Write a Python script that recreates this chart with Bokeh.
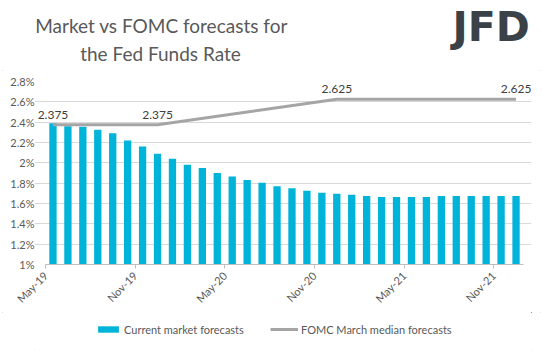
from bokeh.plotting import figure
from bokeh.layouts import column
from bokeh.models import (ColumnDataSource, FixedTicker, PrintfTickFormatter, Label,
                          Legend, LegendItem)
from bokeh.embed import file_html
from bokeh.resources import INLINE
import math

# ---- data ----
months = ["May-19", "Jun-19", "Jul-19", "Aug-19", "Sep-19", "Oct-19", "Nov-19", "Dec-19",
          "Jan-20", "Feb-20", "Mar-20", "Apr-20", "May-20", "Jun-20", "Jul-20", "Aug-20",
          "Sep-20", "Oct-20", "Nov-20", "Dec-20", "Jan-21", "Feb-21", "Mar-21", "Apr-21",
          "May-21", "Jun-21", "Jul-21", "Aug-21", "Sep-21", "Oct-21", "Nov-21", "Dec-21"]
market = [2.39, 2.36, 2.355, 2.325, 2.29, 2.22, 2.16, 2.09,
          2.04, 1.98, 1.95, 1.90, 1.865, 1.83, 1.805, 1.77,
          1.75, 1.725, 1.705, 1.695, 1.685, 1.675, 1.665, 1.665,
          1.665, 1.665, 1.675, 1.675, 1.675, 1.675, 1.675, 1.675]
fomc_months = ["May-19", "Dec-19", "Dec-20", "Dec-21"]
fomc = [2.375, 2.375, 2.625, 2.625]
y_ticks = [1.0, 1.2, 1.4, 1.6, 1.8, 2.0, 2.2, 2.4, 2.6, 2.8]
x_tick_labels = ["May-19", "Nov-19", "May-20", "Nov-20", "May-21", "Nov-21"]
series_names = ["Current market forecasts", "FOMC March median forecasts"]
title_lines = ["Market vs FOMC forecasts for", "the Fed Funds Rate"]

FONT = "Lato"
TXT = "#595959"
BAR = "#00b4d9"
LINE = "#a5a5a5"
W = 543
LEFT = 34          # frame left edge (shared by all stacked figures)
RIGHT = 12

idx = list(range(len(months)))
fx = [months.index(m) for m in fomc_months]
bar_src = ColumnDataSource(dict(x=idx, top=market))
line_src = ColumnDataSource(dict(x=fx, y=fomc))

# ---- header (frame aligned with main chart frame) ----
head = figure(width=W, height=70, output_backend="svg", toolbar_location=None,
              x_axis_type=None, y_axis_type=None, min_border=0,
              min_border_left=LEFT, min_border_right=RIGHT,
              x_range=(0, 1), y_range=(0, 1))
head.outline_line_color = None
head.add_layout(Label(x=161 - LEFT, y=45, x_units="screen", y_units="screen",
                      text=title_lines[0], text_align="center", text_baseline="alphabetic",
                      text_font=FONT, text_font_size="19px", text_color=TXT))
head.add_layout(Label(x=160 - LEFT, y=17, x_units="screen", y_units="screen",
                      text=title_lines[1], text_align="center", text_baseline="alphabetic",
                      text_font=FONT, text_font_size="19px", text_color=TXT))
head.add_layout(Label(x=452 - LEFT, y=44, x_units="screen", y_units="screen", text="JFD",
                      text_align="left", text_baseline="alphabetic",
                      text_font="DejaVu Sans", text_font_style="bold",
                      text_font_size="41px", text_color="#3a4248"))

# ---- main chart ----
n = len(months)
unit_px = 478 / n
pad_l = (45 - LEFT) / unit_px
pad_r = (W - RIGHT - 523) / unit_px
p = figure(output_backend="svg", toolbar_location=None,
           x_range=(-0.5 - pad_l, n - 0.5 + pad_r), y_range=(y_ticks[0], y_ticks[-1]),
           frame_width=W - LEFT - RIGHT, frame_height=183,
           min_border_left=LEFT, min_border_right=RIGHT, min_border_top=11,
           min_border_bottom=46)
p.outline_line_color = None

bars = p.vbar(x="x", top="top", bottom=y_ticks[0], width=0.49, source=bar_src,
              fill_color=BAR, line_color=None)
line = p.line(x="x", y="y", source=line_src, line_color=LINE, line_width=3)

for xv, yv in zip(fx, fomc):
    p.add_layout(Label(x=xv, y=yv, text="%.3f" % yv, text_align="center",
                       text_baseline="alphabetic", y_offset=10, text_font=FONT,
                       text_font_size="12px", text_color="#404040"))

p.ygrid.ticker = FixedTicker(ticks=y_ticks)
p.ygrid.grid_line_color = "#d9d9d9"
p.ygrid.bounds = (-0.5, n - 0.5)
p.xgrid.grid_line_color = None
p.yaxis.ticker = FixedTicker(ticks=y_ticks)
p.yaxis.formatter = PrintfTickFormatter(format="%g%%")
p.yaxis.axis_line_color = None
p.yaxis.major_tick_line_color = None
p.yaxis.major_tick_out = 0
p.yaxis.major_tick_in = 0
p.yaxis.minor_tick_line_color = None
p.yaxis.major_label_standoff = 0
p.yaxis.major_label_text_font = FONT
p.yaxis.major_label_text_font_size = "11px"
p.yaxis.major_label_text_color = TXT

xt = [months.index(m) - 0.5 for m in x_tick_labels]
p.xaxis.ticker = FixedTicker(ticks=xt)
p.xaxis.bounds = (-0.5, n - 0.5)
p.xaxis.major_label_overrides = {t: l for t, l in zip(xt, x_tick_labels)}
p.xaxis.major_label_orientation = math.pi / 4
p.xaxis.axis_line_color = "#bfbfbf"
p.xaxis.major_tick_line_color = "#bfbfbf"
p.xaxis.major_tick_in = 0
p.xaxis.major_tick_out = 4
p.xaxis.minor_tick_line_color = None
p.xaxis.major_label_text_font = FONT
p.xaxis.major_label_text_font_size = "11px"
p.xaxis.major_label_text_color = TXT

# ---- footer with legend (series kept far outside its ranges, used only as legend keys) ----
foot = figure(width=W, height=41, output_backend="svg", toolbar_location=None,
              x_axis_type=None, y_axis_type=None, min_border=0,
              min_border_left=LEFT, min_border_right=RIGHT,
              x_range=(-100, -99), y_range=(-100, -99))
foot.outline_line_color = None
key_bar = foot.vbar(x="x", top="top", bottom=y_ticks[0], width=0.49, source=bar_src,
                    fill_color=BAR, line_color=None)
key_line = foot.line(x="x", y="y", source=line_src, line_color=LINE, line_width=3)
common = dict(orientation="horizontal", border_line_color=None, background_fill_alpha=0,
              label_text_font=FONT, label_text_font_size="11px", label_text_color=TXT,
              glyph_height=8, label_height=14, label_standoff=3, margin=0, padding=0)
leg1 = Legend(items=[LegendItem(label=series_names[0], renderers=[key_bar])],
              location=(95 - LEFT, 17), glyph_width=26, **common)
leg2 = Legend(items=[LegendItem(label=series_names[1], renderers=[key_line])],
              location=(270 - LEFT, 17), glyph_width=28, **common)
foot.add_layout(leg1)
foot.add_layout(leg2)

layout = column(head, p, foot, spacing=0)
layout.styles = {"outline": "1px solid #d9d9d9", "outline-offset": "-3px"}

open("out.html", "w").write(file_html(layout, INLINE))
